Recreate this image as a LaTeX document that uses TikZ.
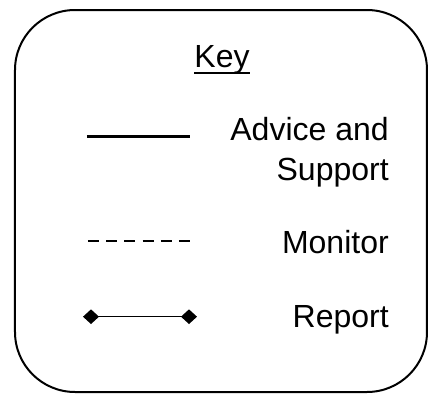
\documentclass[tikz,border=0pt]{standalone}
\usepackage{fontspec}
\setmainfont{Liberation Sans}
\usetikzlibrary{arrows.meta,positioning}
\tikzset{
  keybox/.style ={draw,line width=1.5pt,rounded corners=45pt},
  lbl/.style    ={anchor=base east,inner sep=0pt,font=\fontsize{24pt}{30pt}\selectfont},
  ttl/.style    ={anchor=base,inner sep=0pt,font=\fontsize{24pt}{30pt}\selectfont},
  advice/.style ={line width=1.6pt},
  monitor/.style={line width=1.6pt,dash pattern=on 8.25pt off 5.4pt},
  report/.style ={line width=1.1pt,{Diamond[length=12pt,width=11pt]}-{Diamond[length=12pt,width=11pt]}},
}
\begin{document}
\begin{tikzpicture}[x=0.75pt,y=-0.75pt]
  \useasboundingbox (0,0) rectangle (430,394);
  % frame
  \draw[keybox] (15,10) rectangle (427,392);
  % title
  \node[ttl] (key) at (222,67) {Key};
  \draw[line width=1.5pt] ([yshift=-4.3pt]key.base west) -- ([yshift=-4.3pt]key.base east);
  % labels
  \node[lbl] (adv) at (389,140) {Advice and};
  \node[lbl] (sup) at (389,180) {Support};
  \node[lbl] (mon) at (389,253) {Monitor};
  \node[lbl] (rep) at (389,327) {Report};
  % sample lines
  \coordinate (a1) at (87,136.5);  \coordinate (a2) at (190,136.5);
  \coordinate (m1) at (88,240.7);  \coordinate (m2) at (190,240.7);
  \coordinate (r1) at (83,316.7);  \coordinate (r2) at (197,316.7);
  \draw[advice] (a1) -- (a2);
  \draw[monitor] (m1) -- (m2);
  \draw[report] (r1) -- (r2);
\end{tikzpicture}
\end{document}
